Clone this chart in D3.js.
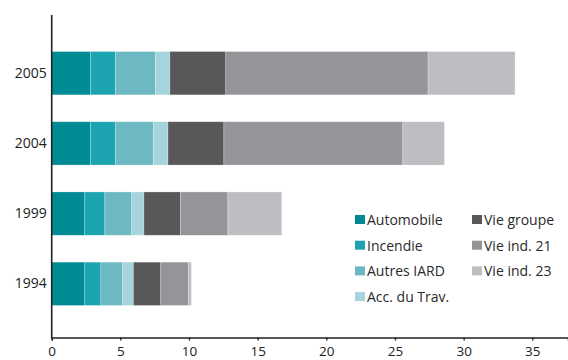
<!DOCTYPE html>
<html>
<head>
<meta charset="utf-8">
<script src="https://cdn.jsdelivr.net/npm/d3@7"></script>
<style>
  html, body { margin: 0; padding: 0; background: #fff; }
  svg { display: block; font-family: "Open Sans", "Noto Sans", sans-serif; }
</style>
</head>
<body>
<svg id="chart" width="568" height="360"></svg>
<script>
// Years shown on the vertical axis (top to bottom)
const years = ["2005", "2004", "1999", "1994"];

// Branch names, in stacking order
const series = ["Automobile", "Incendie", "Autres IARD", "Acc. du Trav.", "Vie groupe", "Vie ind. 21", "Vie ind. 23"];

// Premiums per branch for each year
const automobile = [2.83, 2.83, 2.41, 2.41];
const incendie   = [1.81, 1.81, 1.46, 1.17];
const autresIard = [2.91, 2.76, 1.96, 1.59];
const accTrav    = [1.06, 1.07, 0.89, 0.78];
const vieGroupe  = [4.07, 4.07, 2.65, 1.99];
const vieInd21   = [14.73, 13.03, 3.46, 2.03];
const vieInd23   = [6.33, 3.03, 3.92, 0.20];

const xTicks = [0, 5, 10, 15, 20, 25, 30, 35];

const colors = ["#008a93", "#1ca5b0", "#6cb9c3", "#a5d4dc", "#58585b", "#949599", "#bdbec2"];

const columns = [automobile, incendie, autresIard, accTrav, vieGroupe, vieInd21, vieInd23];
const rows = years.map((y, i) => {
  const r = { year: y };
  series.forEach((s, k) => { r[s] = columns[k][i]; });
  return r;
});

const svg = d3.select("#chart");

const x = d3.scaleLinear().domain([0, 37.6]).range([51.7, 568]);
const y = d3.scaleBand().domain(years).range([17, 340]).paddingInner(0.383).paddingOuter(0.492);
const color = d3.scaleOrdinal().domain(series).range(colors);

const stacked = d3.stack().keys(series)(rows);

// Stacked bars
svg.append("g")
  .selectAll("g")
  .data(stacked)
  .join("g")
    .attr("fill", d => color(d.key))
  .selectAll("rect")
  .data(d => d)
  .join("rect")
    .attr("x", d => x(d[0]))
    .attr("y", d => y(d.data.year))
    .attr("width", d => x(d[1]) - x(d[0]))
    .attr("height", y.bandwidth())
    .attr("stroke", "rgba(255,255,255,0.35)")
    .attr("stroke-width", 0.7);

// Horizontal axis
const xAxis = svg.append("g")
  .attr("transform", "translate(0,337.5)")
  .call(d3.axisBottom(x).tickValues(xTicks).tickSizeOuter(0).tickSize(3));
xAxis.select(".domain").attr("stroke", "#222").attr("stroke-width", 1.6);
xAxis.selectAll(".tick line").attr("stroke", "#222").attr("stroke-width", 1.3);
xAxis.selectAll(".tick text")
  .attr("fill", "#222")
  .attr("font-size", 13.5)
  .attr("dy", null)
  .attr("y", 18)
  .attr("font-family", "\"Open Sans\", sans-serif");

// Vertical axis
const yAxis = svg.append("g")
  .attr("transform", "translate(51.7,0)")
  .call(d3.axisLeft(y).tickSize(0).tickPadding(5));
yAxis.select(".domain").remove();
yAxis.append("line")
  .attr("x1", 0).attr("x2", 0)
  .attr("y1", 15).attr("y2", 338)
  .attr("stroke", "#222").attr("stroke-width", 1.6);
yAxis.selectAll(".tick text")
  .attr("fill", "#222")
  .attr("font-size", 14)
  .attr("font-family", "\"Open Sans\", sans-serif");

// Legend in two columns
const legend = svg.append("g").attr("font-size", 14).attr("fill", "#2a2a2a");
const legendItems = series.map((s, i) => ({
  name: s,
  col: i < 4 ? 0 : 1,
  row: i < 4 ? i : i - 4
}));
const colX = [355, 472];
const item = legend.selectAll("g")
  .data(legendItems)
  .join("g")
    .attr("transform", d => `translate(${colX[d.col]},${215 + d.row * 25.7})`);
item.append("rect")
  .attr("width", 10).attr("height", 9)
  .attr("fill", d => color(d.name));
item.append("text")
  .attr("x", 12).attr("y", 10)
  .text(d => d.name);
</script>
</body>
</html>
